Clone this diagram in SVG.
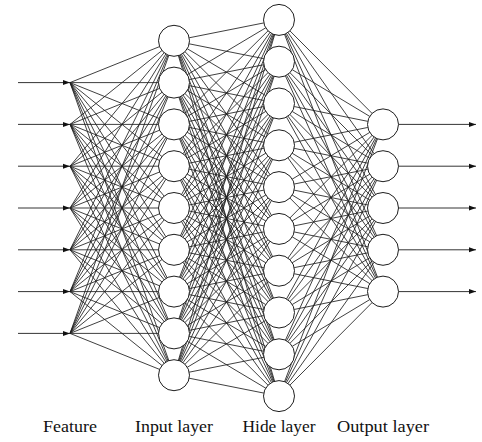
<svg xmlns="http://www.w3.org/2000/svg" width="482" height="442" viewBox="0 0 482 442">
<style>
.e{fill:none;stroke:#1e1e1e;stroke-width:0.85}
.a{fill:none;stroke:#1e1e1e;stroke-width:0.9}
.n{fill:#fff;stroke:#1e1e1e;stroke-width:1}
.t{font-family:"Liberation Serif","DejaVu Serif",serif;font-size:16.5px;fill:#111;text-anchor:middle}
</style>
<defs>
<marker id="ah" markerWidth="8" markerHeight="6" refX="7" refY="3" orient="auto" markerUnits="userSpaceOnUse">
<path d="M0 0.5L7 3L0 5.5Z" fill="#111"/>
</marker>
</defs>
<rect width="482" height="442" fill="#fff"/>
<g id="connectors">
<g id="feature-to-input">
<path class="e" d="M70 82.6L174 40.8M70 82.6L174 82.6M70 82.6L174 124.4M70 82.6L174 166.2M70 82.6L174 208M70 82.6L174 249.8M70 82.6L174 291.6M70 82.6L174 333.4M70 82.6L174 375.2"/>
<path class="e" d="M70 124.4L174 40.8M70 124.4L174 82.6M70 124.4L174 124.4M70 124.4L174 166.2M70 124.4L174 208M70 124.4L174 249.8M70 124.4L174 291.6M70 124.4L174 333.4M70 124.4L174 375.2"/>
<path class="e" d="M70 166.2L174 40.8M70 166.2L174 82.6M70 166.2L174 124.4M70 166.2L174 166.2M70 166.2L174 208M70 166.2L174 249.8M70 166.2L174 291.6M70 166.2L174 333.4M70 166.2L174 375.2"/>
<path class="e" d="M70 208L174 40.8M70 208L174 82.6M70 208L174 124.4M70 208L174 166.2M70 208L174 208M70 208L174 249.8M70 208L174 291.6M70 208L174 333.4M70 208L174 375.2"/>
<path class="e" d="M70 249.8L174 40.8M70 249.8L174 82.6M70 249.8L174 124.4M70 249.8L174 166.2M70 249.8L174 208M70 249.8L174 249.8M70 249.8L174 291.6M70 249.8L174 333.4M70 249.8L174 375.2"/>
<path class="e" d="M70 291.6L174 40.8M70 291.6L174 82.6M70 291.6L174 124.4M70 291.6L174 166.2M70 291.6L174 208M70 291.6L174 249.8M70 291.6L174 291.6M70 291.6L174 333.4M70 291.6L174 375.2"/>
<path class="e" d="M70 333.4L174 40.8M70 333.4L174 82.6M70 333.4L174 124.4M70 333.4L174 166.2M70 333.4L174 208M70 333.4L174 249.8M70 333.4L174 291.6M70 333.4L174 333.4M70 333.4L174 375.2"/>
</g>
<g id="input-to-hide">
<path class="e" d="M174 40.8L279 19.9M174 40.8L279 61.7M174 40.8L279 103.5M174 40.8L279 145.3M174 40.8L279 187.1M174 40.8L279 228.9M174 40.8L279 270.7M174 40.8L279 312.5M174 40.8L279 354.3M174 40.8L279 396.1"/>
<path class="e" d="M174 82.6L279 19.9M174 82.6L279 61.7M174 82.6L279 103.5M174 82.6L279 145.3M174 82.6L279 187.1M174 82.6L279 228.9M174 82.6L279 270.7M174 82.6L279 312.5M174 82.6L279 354.3M174 82.6L279 396.1"/>
<path class="e" d="M174 124.4L279 19.9M174 124.4L279 61.7M174 124.4L279 103.5M174 124.4L279 145.3M174 124.4L279 187.1M174 124.4L279 228.9M174 124.4L279 270.7M174 124.4L279 312.5M174 124.4L279 354.3M174 124.4L279 396.1"/>
<path class="e" d="M174 166.2L279 19.9M174 166.2L279 61.7M174 166.2L279 103.5M174 166.2L279 145.3M174 166.2L279 187.1M174 166.2L279 228.9M174 166.2L279 270.7M174 166.2L279 312.5M174 166.2L279 354.3M174 166.2L279 396.1"/>
<path class="e" d="M174 208L279 19.9M174 208L279 61.7M174 208L279 103.5M174 208L279 145.3M174 208L279 187.1M174 208L279 228.9M174 208L279 270.7M174 208L279 312.5M174 208L279 354.3M174 208L279 396.1"/>
<path class="e" d="M174 249.8L279 19.9M174 249.8L279 61.7M174 249.8L279 103.5M174 249.8L279 145.3M174 249.8L279 187.1M174 249.8L279 228.9M174 249.8L279 270.7M174 249.8L279 312.5M174 249.8L279 354.3M174 249.8L279 396.1"/>
<path class="e" d="M174 291.6L279 19.9M174 291.6L279 61.7M174 291.6L279 103.5M174 291.6L279 145.3M174 291.6L279 187.1M174 291.6L279 228.9M174 291.6L279 270.7M174 291.6L279 312.5M174 291.6L279 354.3M174 291.6L279 396.1"/>
<path class="e" d="M174 333.4L279 19.9M174 333.4L279 61.7M174 333.4L279 103.5M174 333.4L279 145.3M174 333.4L279 187.1M174 333.4L279 228.9M174 333.4L279 270.7M174 333.4L279 312.5M174 333.4L279 354.3M174 333.4L279 396.1"/>
<path class="e" d="M174 375.2L279 19.9M174 375.2L279 61.7M174 375.2L279 103.5M174 375.2L279 145.3M174 375.2L279 187.1M174 375.2L279 228.9M174 375.2L279 270.7M174 375.2L279 312.5M174 375.2L279 354.3M174 375.2L279 396.1"/>
</g>
<g id="hide-to-output">
<path class="e" d="M279 19.9L383 124.4M279 19.9L383 166.2M279 19.9L383 208M279 19.9L383 249.8M279 19.9L383 291.6"/>
<path class="e" d="M279 61.7L383 124.4M279 61.7L383 166.2M279 61.7L383 208M279 61.7L383 249.8M279 61.7L383 291.6"/>
<path class="e" d="M279 103.5L383 124.4M279 103.5L383 166.2M279 103.5L383 208M279 103.5L383 249.8M279 103.5L383 291.6"/>
<path class="e" d="M279 145.3L383 124.4M279 145.3L383 166.2M279 145.3L383 208M279 145.3L383 249.8M279 145.3L383 291.6"/>
<path class="e" d="M279 187.1L383 124.4M279 187.1L383 166.2M279 187.1L383 208M279 187.1L383 249.8M279 187.1L383 291.6"/>
<path class="e" d="M279 228.9L383 124.4M279 228.9L383 166.2M279 228.9L383 208M279 228.9L383 249.8M279 228.9L383 291.6"/>
<path class="e" d="M279 270.7L383 124.4M279 270.7L383 166.2M279 270.7L383 208M279 270.7L383 249.8M279 270.7L383 291.6"/>
<path class="e" d="M279 312.5L383 124.4M279 312.5L383 166.2M279 312.5L383 208M279 312.5L383 249.8M279 312.5L383 291.6"/>
<path class="e" d="M279 354.3L383 124.4M279 354.3L383 166.2M279 354.3L383 208M279 354.3L383 249.8M279 354.3L383 291.6"/>
<path class="e" d="M279 396.1L383 124.4M279 396.1L383 166.2M279 396.1L383 208M279 396.1L383 249.8M279 396.1L383 291.6"/>
</g>
<g id="input-arrows">
<line class="a" x1="18" y1="82.6" x2="70" y2="82.6" marker-end="url(#ah)"/>
<line class="a" x1="18" y1="124.4" x2="70" y2="124.4" marker-end="url(#ah)"/>
<line class="a" x1="18" y1="166.2" x2="70" y2="166.2" marker-end="url(#ah)"/>
<line class="a" x1="18" y1="208" x2="70" y2="208" marker-end="url(#ah)"/>
<line class="a" x1="18" y1="249.8" x2="70" y2="249.8" marker-end="url(#ah)"/>
<line class="a" x1="18" y1="291.6" x2="70" y2="291.6" marker-end="url(#ah)"/>
<line class="a" x1="18" y1="333.4" x2="70" y2="333.4" marker-end="url(#ah)"/>
</g>
<g id="output-arrows">
<line class="a" x1="398.5" y1="124.4" x2="476" y2="124.4" marker-end="url(#ah)"/>
<line class="a" x1="398.5" y1="166.2" x2="476" y2="166.2" marker-end="url(#ah)"/>
<line class="a" x1="398.5" y1="208" x2="476" y2="208" marker-end="url(#ah)"/>
<line class="a" x1="398.5" y1="249.8" x2="476" y2="249.8" marker-end="url(#ah)"/>
<line class="a" x1="398.5" y1="291.6" x2="476" y2="291.6" marker-end="url(#ah)"/>
</g>
</g>
<g id="input-layer">
<circle id="i1" class="n" cx="174" cy="40.8" r="15.5"/>
<circle id="i2" class="n" cx="174" cy="82.6" r="15.5"/>
<circle id="i3" class="n" cx="174" cy="124.4" r="15.5"/>
<circle id="i4" class="n" cx="174" cy="166.2" r="15.5"/>
<circle id="i5" class="n" cx="174" cy="208" r="15.5"/>
<circle id="i6" class="n" cx="174" cy="249.8" r="15.5"/>
<circle id="i7" class="n" cx="174" cy="291.6" r="15.5"/>
<circle id="i8" class="n" cx="174" cy="333.4" r="15.5"/>
<circle id="i9" class="n" cx="174" cy="375.2" r="15.5"/>
</g>
<g id="hide-layer">
<circle id="h1" class="n" cx="279" cy="19.9" r="15.5"/>
<circle id="h2" class="n" cx="279" cy="61.7" r="15.5"/>
<circle id="h3" class="n" cx="279" cy="103.5" r="15.5"/>
<circle id="h4" class="n" cx="279" cy="145.3" r="15.5"/>
<circle id="h5" class="n" cx="279" cy="187.1" r="15.5"/>
<circle id="h6" class="n" cx="279" cy="228.9" r="15.5"/>
<circle id="h7" class="n" cx="279" cy="270.7" r="15.5"/>
<circle id="h8" class="n" cx="279" cy="312.5" r="15.5"/>
<circle id="h9" class="n" cx="279" cy="354.3" r="15.5"/>
<circle id="h10" class="n" cx="279" cy="396.1" r="15.5"/>
</g>
<g id="output-layer">
<circle id="o1" class="n" cx="383" cy="124.4" r="15.5"/>
<circle id="o2" class="n" cx="383" cy="166.2" r="15.5"/>
<circle id="o3" class="n" cx="383" cy="208" r="15.5"/>
<circle id="o4" class="n" cx="383" cy="249.8" r="15.5"/>
<circle id="o5" class="n" cx="383" cy="291.6" r="15.5"/>
</g>
<g id="labels">
<text class="t" x="70" y="432" textLength="54" lengthAdjust="spacingAndGlyphs">Feature</text>
<text class="t" x="174" y="432" textLength="78" lengthAdjust="spacingAndGlyphs">Input layer</text>
<text class="t" x="279" y="432" textLength="73" lengthAdjust="spacingAndGlyphs">Hide layer</text>
<text class="t" x="383" y="432" textLength="92" lengthAdjust="spacingAndGlyphs">Output layer</text>
</g>
</svg>
